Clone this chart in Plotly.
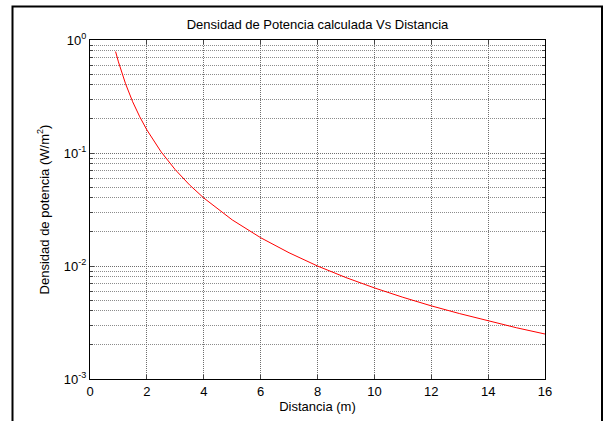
import plotly.graph_objects as go

distancia = [0.9, 1.0, 1.25, 1.5, 1.75, 2.0, 2.5, 3.0, 3.5, 4.0, 5.0, 6.0, 7.0, 8.0,
             9.0, 10.0, 11.0, 12.0, 13.0, 14.0, 15.0, 16.0]
densidad = [0.790, 0.640, 0.410, 0.284, 0.209, 0.160, 0.1024, 0.0711, 0.0522, 0.0400,
            0.0256, 0.0178, 0.0131, 0.0100, 0.0079, 0.0064, 0.00529, 0.00444,
            0.00379, 0.00327, 0.00284, 0.0025]

x_ticks = [0, 2, 4, 6, 8, 10, 12, 14, 16]
y_ticks = [1e-3, 1e-2, 1e-1, 1e0]
y_ticktext = ["10<sup>-3</sup>", "10<sup>-2</sup>", "10<sup>-1</sup>", "10<sup>0</sup>"]
y_minor = [m * 10.0 ** e for e in (-3, -2, -1) for m in range(2, 10)]

fig = go.Figure()
fig.add_trace(go.Scatter(x=distancia, y=densidad, mode="lines",
                         line=dict(color="#ff0000", width=1), showlegend=False))

L, R, T, B = 90, 61, 40, 42
W, H = 606, 421
pw, ph = W - L - R, H - T - B

FAM = "Liberation Sans, Arial, sans-serif"
font = dict(family=FAM, size=13, color="black")

fig.update_layout(
    width=W, height=H,
    margin=dict(l=L, r=R, t=T, b=B),
    paper_bgcolor="white", plot_bgcolor="white",
    font=font,
    title=dict(text="Densidad de Potencia calculada Vs Distancia",
               x=(L + pw / 2) / W, xanchor="center", y=1 - 24 / H, yanchor="middle",
               font=dict(family=FAM, size=13, color="black")),
    xaxis=dict(range=[0, 16], tickvals=x_ticks, ticks="inside", ticklen=4,
               showline=True, linecolor="black", linewidth=1, mirror="allticks",
               showgrid=True, gridcolor="#6e6e6e", griddash="1px,1px", gridwidth=1,
               zeroline=False, tickfont=font,
               title=dict(text="Distancia (m)", font=font, standoff=2)),
    yaxis=dict(type="log", range=[-3, 0], tickvals=y_ticks, ticktext=y_ticktext,
               ticks="inside", ticklen=4,
               showline=True, linecolor="black", linewidth=1, mirror="allticks",
               showgrid=True, gridcolor="#6e6e6e", griddash="1px,1px", gridwidth=1,
               zeroline=False, tickfont=font,
               minor=dict(tickvals=y_minor, ticks="inside", ticklen=3,
                          showgrid=True, gridcolor="#8c8c8c", griddash="1px,1px",
                          gridwidth=1),
               title=dict(text="Densidad de potencia (W/m<sup>2</sup>)", font=font,
                          standoff=11)),
)

fig.add_shape(type="rect", xref="paper", yref="paper",
              x0=(12.5 - L) / pw, x1=(602 - L) / pw,
              y0=-(440 - (H - B)) / ph, y1=1 + (T - 6.5) / ph,
              line=dict(color="black", width=2), fillcolor="rgba(0,0,0,0)",
              layer="above")

fig.write_html("out.html")
